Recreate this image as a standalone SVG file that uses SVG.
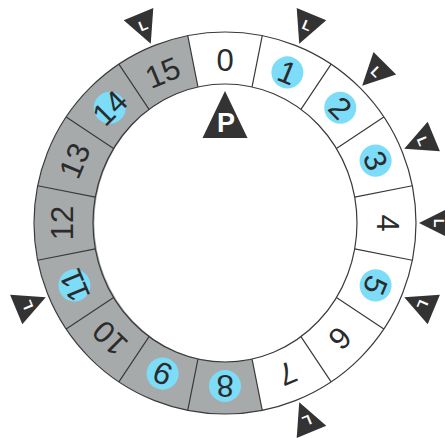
<svg xmlns="http://www.w3.org/2000/svg" width="445" height="438" viewBox="0 0 445 438">
<style>
.ln{stroke:#3a3a3a;stroke-width:1.2;fill:none}
.num{font-family:"Liberation Sans",Arial,sans-serif;font-size:31px;fill:#2b2b2b;text-anchor:middle}
.dot{fill:#7ddcf8}
.tri{fill:#333333}
.lt{font-family:"Liberation Sans",Arial,sans-serif;font-size:14px;font-weight:bold;fill:#ffffff;text-anchor:middle}
</style>
<rect width="445" height="438" fill="#ffffff"/>
<g id="ring">
<circle cx="225" cy="223" r="191" fill="#ffffff"/>
<path d="M262.26,410.33 A191,191 0 0 1 187.74,35.67 L197.94,86.96 A132,139 0 0 0 252.06,359.04 Z" fill="#a7aaab"/>
<circle class="ln" cx="225" cy="223" r="191"/>
<ellipse class="ln" cx="225" cy="223" rx="132" ry="139" fill="#ffffff"/>
</g>
<g id="connectors">
<path class="ln" d="M252.06,86.96L262.26,35.67M300.95,109.33L331.12,64.18M336.42,148.55L383.82,116.88M354.66,197.21L412.33,185.74M354.66,248.79L412.33,260.26M336.42,297.45L383.82,329.12M300.95,336.67L331.12,381.82M252.06,359.04L262.26,410.33M197.94,359.04L187.74,410.33M149.05,336.67L118.88,381.82M113.58,297.45L66.18,329.12M95.34,248.79L37.67,260.26M95.34,197.21L37.67,185.74M113.58,148.55L66.18,116.88M149.05,109.33L118.88,64.18M197.94,86.96L187.74,35.67"/>
</g>
<g id="seg0" transform="rotate(0 225 223)"><text class="num" x="225" y="71">0</text></g>
<g id="seg1" transform="rotate(22.5 225 223)"><circle class="dot" cx="225" cy="60" r="16"/><text class="num" x="225" y="71">1</text></g>
<g id="seg2" transform="rotate(45 225 223)"><circle class="dot" cx="225" cy="60" r="16"/><text class="num" x="225" y="71">2</text></g>
<g id="seg3" transform="rotate(67.5 225 223)"><circle class="dot" cx="225" cy="60" r="16"/><text class="num" x="225" y="71">3</text></g>
<g id="seg4" transform="rotate(90 225 223)"><text class="num" x="225" y="71">4</text></g>
<g id="seg5" transform="rotate(112.5 225 223)"><circle class="dot" cx="225" cy="60" r="16"/><text class="num" x="225" y="71">5</text></g>
<g id="seg6" transform="rotate(135 225 223)"><text class="num" x="225" y="71">6</text></g>
<g id="seg7" transform="rotate(157.5 225 223)"><text class="num" x="225" y="71">7</text></g>
<g id="seg8" transform="rotate(180 225 223)"><circle class="dot" cx="225" cy="60" r="16"/><text class="num" x="225" y="71">8</text></g>
<g id="seg9" transform="rotate(202.5 225 223)"><circle class="dot" cx="225" cy="60" r="16"/><text class="num" x="225" y="71">9</text></g>
<g id="seg10" transform="rotate(225 225 223)"><text class="num" x="225" y="71">10</text></g>
<g id="seg11" transform="rotate(247.5 225 223)"><circle class="dot" cx="225" cy="60" r="16"/><text class="num" x="225" y="71">11</text></g>
<g id="seg12" transform="rotate(270 225 223)"><text class="num" x="225" y="71">12</text></g>
<g id="seg13" transform="rotate(292.5 225 223)"><text class="num" x="225" y="71">13</text></g>
<g id="seg14" transform="rotate(315 225 223)"><circle class="dot" cx="225" cy="60" r="16"/><text class="num" x="225" y="71">14</text></g>
<g id="seg15" transform="rotate(337.5 225 223)"><text class="num" x="225" y="71">15</text></g>
<g id="L1" transform="rotate(22.5 225 223)"><polygon class="tri" points="225,29 209,-3 241,-3"/><text class="lt" x="225" y="14">L</text></g>
<g id="L2" transform="rotate(45 225 223)"><polygon class="tri" points="225,29 209,-3 241,-3"/><text class="lt" x="225" y="14">L</text></g>
<g id="L3" transform="rotate(67.5 225 223)"><polygon class="tri" points="225,29 209,-3 241,-3"/><text class="lt" x="225" y="14">L</text></g>
<g id="L4" transform="rotate(90 225 223)"><polygon class="tri" points="225,29 209,-3 241,-3"/><text class="lt" x="225" y="14">L</text></g>
<g id="L5" transform="rotate(112.5 225 223)"><polygon class="tri" points="225,29 209,-3 241,-3"/><text class="lt" x="225" y="14">L</text></g>
<g id="L7" transform="rotate(157.5 225 223)"><polygon class="tri" points="225,29 209,-3 241,-3"/><text class="lt" x="225" y="14">L</text></g>
<g id="L11" transform="rotate(247.5 225 223)"><polygon class="tri" points="225,29 209,-3 241,-3"/><text class="lt" x="225" y="14">L</text></g>
<g id="L15" transform="rotate(337.5 225 223)"><polygon class="tri" points="225,29 209,-3 241,-3"/><text class="lt" x="225" y="14">L</text></g>
<g id="P"><polygon class="tri" points="225,91 202.5,138 247.5,138"/><text x="226" y="132" font-family="Liberation Sans,Arial,sans-serif" font-size="27" font-weight="bold" fill="#ffffff" text-anchor="middle">P</text></g>
</svg>
